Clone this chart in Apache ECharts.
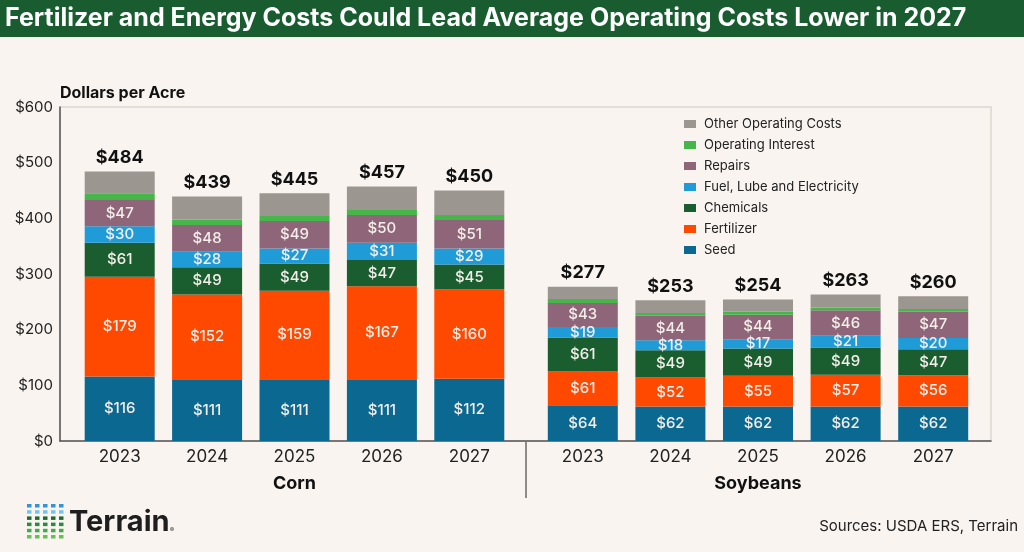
<!DOCTYPE html>
<html>
<head>
<meta charset="utf-8">
<title>Operating Costs</title>
<script src="https://cdn.jsdelivr.net/npm/echarts@6/dist/echarts.min.js"></script>
<style>
    html, body {margin: 0; padding: 0; background: #f9f4f0;}
    #main {width: 1024px; height: 552px;}
</style>
</head>
<body>
<div id="main"></div>
<script>
/*-------data-------*/
var years = ['2023', '2024', '2025', '2026', '2027'];

var cornSeed = [116, 111, 111, 111, 112];
var cornFertilizer = [179, 152, 159, 167, 160];
var cornChemicals = [61, 49, 49, 47, 45];
var cornFuel = [30, 28, 27, 31, 29];
var cornRepairs = [47, 48, 49, 50, 51];
var cornInterest = [12, 10, 9, 9, 9];
var cornOther = [39, 41, 41, 42, 44];
var cornTotal = [484, 439, 445, 457, 450];

var soySeed = [64, 62, 62, 62, 62];
var soyFertilizer = [61, 52, 55, 57, 56];
var soyChemicals = [61, 49, 49, 49, 47];
var soyFuel = [19, 18, 17, 21, 20];
var soyRepairs = [43, 44, 44, 46, 47];
var soyInterest = [7, 5, 5, 5, 5];
var soyOther = [22, 23, 22, 23, 23];
var soyTotal = [277, 253, 254, 263, 260];

var yTicks = [0, 100, 200, 300, 400, 500, 600];
/*-------data-------*/

var FONT = 'Inter';
var colors = {
    'Seed': '#0b6991',
    'Fertilizer': '#ff4900',
    'Chemicals': '#1a5e30',
    'Fuel, Lube and Electricity': '#1f9bd7',
    'Repairs': '#8e6579',
    'Operating Interest': '#47b64a',
    'Other Operating Costs': '#9c9691'
};

// one stacked series per cost item and grid
function makeSeries(name, data, axisIdx, labelOn, total) {
    var s = {
        name: name,
        type: 'bar',
        stack: 'grid' + axisIdx,
        xAxisIndex: axisIdx,
        yAxisIndex: axisIdx,
        barWidth: 70,
        data: data,
        itemStyle: {color: colors[name]},
        label: {show: false}
    };
    if (labelOn) {
        s.label = {
            show: true,
            position: 'inside',
            color: '#f3eee9',
            fontFamily: FONT,
            fontSize: 15,
            fontWeight: 500,
            formatter: function (p) { return '$' + p.value; }
        };
    }
    if (total) {
        // total sits on top of the last segment
        s.label = {
            show: true,
            position: 'top',
            distance: 5,
            color: '#111',
            fontFamily: FONT,
            fontSize: 18,
            fontWeight: 'bold',
            formatter: function (p) { return '$' + total[p.dataIndex]; }
        };
    }
    return s;
}

var series = [];
var groups = [
    {idx: 1, seed: cornSeed, fert: cornFertilizer, chem: cornChemicals, fuel: cornFuel, rep: cornRepairs, int: cornInterest, oth: cornOther, tot: cornTotal},
    {idx: 2, seed: soySeed, fert: soyFertilizer, chem: soyChemicals, fuel: soyFuel, rep: soyRepairs, int: soyInterest, oth: soyOther, tot: soyTotal}
];
for (var i = 0; i < groups.length; i++) {
    var g = groups[i];
    series.push(makeSeries('Seed', g.seed, g.idx, true));
    series.push(makeSeries('Fertilizer', g.fert, g.idx, true));
    series.push(makeSeries('Chemicals', g.chem, g.idx, true));
    series.push(makeSeries('Fuel, Lube and Electricity', g.fuel, g.idx, true));
    series.push(makeSeries('Repairs', g.rep, g.idx, true));
    series.push(makeSeries('Operating Interest', g.int, g.idx, false));
    series.push(makeSeries('Other Operating Costs', g.oth, g.idx, false, g.tot));
}

// Terrain logo dots
var dotRows = ['#2c96d7', '#74c3ef', '#1c6a36', '#2b8a3f', '#3fae4a', '#62c252'];
var logo = [];
for (var r = 0; r < dotRows.length; r++) {
    for (var c = 0; c < 5; c++) {
        logo.push({
            type: 'rect',
            shape: {x: 27 + c * 8, y: 504 + r * 6.2, width: 4.5, height: 3.5},
            style: {fill: dotRows[r]}
        });
    }
}

var yearAxis = function (gridIdx, name) {
    return {
        type: 'category',
        gridIndex: gridIdx,
        data: years,
        axisLine: {show: false},
        axisTick: {show: false},
        axisLabel: {color: '#222', fontFamily: FONT, fontSize: 17, margin: 7},
        name: name,
        nameLocation: 'middle',
        nameGap: 34,
        nameTextStyle: {color: '#111', fontFamily: FONT, fontSize: 18, fontWeight: 'bold'}
    };
};
var hiddenY = function (gridIdx) {
    return {type: 'value', gridIndex: gridIdx, min: 0, max: 600, show: false};
};

var myChart = echarts.init(document.getElementById('main'));
var option = {
    backgroundColor: '#f9f4f0',
    animation: false,
    textStyle: {fontFamily: FONT},
    title: [
        {
            text: 'Fertilizer and Energy Costs Could Lead Average Operating Costs Lower in 2027',
            left: 5, top: 6, padding: 0,
            textStyle: {color: '#fff', fontFamily: FONT, fontSize: 25, fontWeight: 'bold'}
        },
        {
            text: 'Sources: USDA ERS, Terrain',
            right: 6, top: 519, padding: 0,
            textStyle: {color: '#222', fontFamily: FONT, fontSize: 15, fontWeight: 'normal'}
        }
    ],
    legend: {
        orient: 'vertical',
        left: 684, top: 116,
        padding: 0,
        itemWidth: 12, itemHeight: 8,
        itemGap: 5,
        icon: 'rect',
        data: ['Other Operating Costs', 'Operating Interest', 'Repairs', 'Fuel, Lube and Electricity', 'Chemicals', 'Fertilizer', 'Seed'],
        textStyle: {color: '#222', fontFamily: FONT, fontSize: 13, lineHeight: 16, padding: [0, 0, 0, 3]}
    },
    grid: [
        {left: 60, right: 33, top: 107, bottom: 111, show: true, borderColor: '#dcd7d0', borderWidth: 1.5, backgroundColor: 'transparent'},
        {left: 76, width: 437, top: 107, bottom: 111},
        {left: 539, width: 438, top: 107, bottom: 111}
    ],
    xAxis: [
        {
            type: 'value', gridIndex: 0, min: 0, max: 1,
            axisLine: {show: true, lineStyle: {color: '#555', width: 1.5}},
            axisTick: {show: false}, axisLabel: {show: false}, splitLine: {show: false}
        },
        yearAxis(1, 'Corn'),
        yearAxis(2, 'Soybeans')
    ],
    yAxis: [
        {
            type: 'value', gridIndex: 0,
            min: yTicks[0], max: yTicks[yTicks.length - 1], interval: 100,
            name: 'Dollars per Acre',
            nameLocation: 'end',
            nameGap: 6,
            nameTextStyle: {color: '#111', fontFamily: FONT, fontSize: 16, fontWeight: 'bold', align: 'left'},
            axisLine: {show: true, lineStyle: {color: '#555', width: 1.5}},
            axisTick: {show: false},
            splitLine: {show: false},
            axisLabel: {color: '#222', fontFamily: FONT, fontSize: 15, margin: 7, formatter: '${value}'}
        },
        hiddenY(1),
        hiddenY(2)
    ],
    series: series,
    graphic: [
        // title band
        {type: 'rect', z: -1, shape: {x: 0, y: 0, width: 1024, height: 37}, style: {fill: '#185c2f'}},
        // divider between crops
        {type: 'line', shape: {x1: 526, y1: 442, x2: 526, y2: 498}, style: {stroke: '#222', lineWidth: 1}},
        {type: 'group', children: logo},
        {
            type: 'text', x: 69, y: 522,
            style: {text: 'Terrain', fill: '#1e1e1e', font: 'bold 29px Inter', textVerticalAlign: 'middle'}
        },
        {
            type: 'text', x: 170, y: 530,
            style: {text: '®', fill: '#1e1e1e', font: '6px Inter', textVerticalAlign: 'middle'}
        }
    ]
};
myChart.setOption(option);
</script>
</body>
</html>
